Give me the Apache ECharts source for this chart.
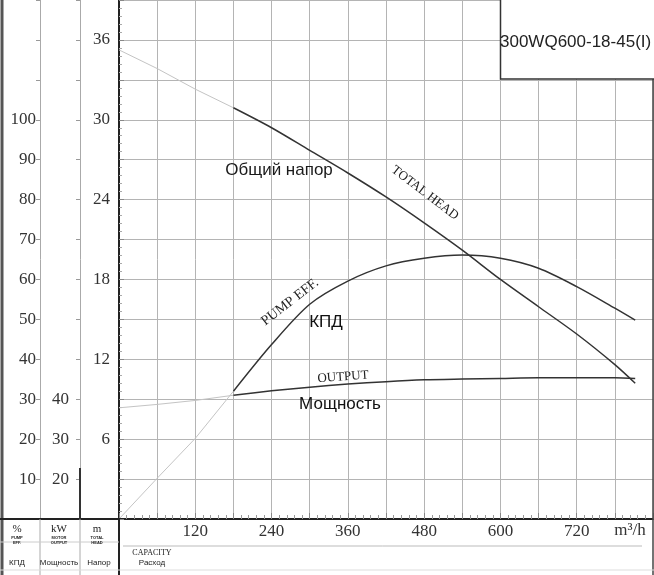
<!DOCTYPE html>
<html><head><meta charset="utf-8">
<script src="https://cdn.jsdelivr.net/npm/echarts@6/dist/echarts.min.js"></script>
<style>html,body{margin:0;padding:0;background:#fff}#c{width:654px;height:575px}</style>
</head><body><div id="c"></div>
<script>
// Flow (m³/h)
const flowLight = [0, 60, 120, 180];
const flow = [180, 240, 300, 360, 420, 480, 540, 600, 660, 720, 780, 812];
// Total head (m)
const headLight = [35.25, 33.85, 32.3, 30.9];
const head = [30.9, 29.4, 27.7, 26.0, 24.2, 22.25, 20.2, 18.0, 15.95, 13.9, 11.6, 10.2];
// Pump efficiency (%)
const effLight = [0, 10.2, 20.2, 32.0];
const eff = [32.0, 43.7, 53.8, 59.6, 63.4, 65.3, 66.1, 65.3, 62.8, 58.2, 52.8, 49.8];
// Output power (kW)
const powerLight = [37.85, 38.7, 39.7, 41.0];
const power = [41.0, 42.1, 43.0, 43.8, 44.4, 44.85, 45.05, 45.2, 45.35, 45.35, 45.35, 45.2];
// Tick labels
const flowTicks = [120, 240, 360, 480, 600, 720];
const headTicks = [6, 12, 18, 24, 30, 36];
const effTicks = [10, 20, 30, 40, 50, 60, 70, 80, 90, 100];
const powerTicks = [20, 30, 40];

const pairs = (xs, ys) => xs.map((x, i) => [x, ys[i]]);
const SERIF = '"Liberation Serif", "DejaVu Serif", serif';
const SANS = '"Liberation Sans", Arial, sans-serif';
const GRID = '#b4b4b4';
const DARK = '#333';
const LIGHT = '#c4c4c4';

const chart = echarts.init(document.getElementById('c'), null, {renderer: 'canvas'});

function lineSeries(name, xs, ys, axis, color, width, smooth) {
  return {
    name, type: 'line', yAxisIndex: axis, data: pairs(xs, ys),
    smooth: smooth, showSymbol: false, symbol: 'none',
    lineStyle: {color, width}, z: 5, silent: true
  };
}

function txt(text, x, y, font, opts) {
  opts = opts || {};
  return {
    type: 'text', x, y, rotation: opts.rot || 0, z: 50, silent: true,
    style: {text, font, fill: opts.fill || '#222', align: opts.align || 'center', verticalAlign: 'middle'}
  };
}
function ln(x1, y1, x2, y2, stroke, w) {
  return {type: 'line', z: 40, silent: true, shape: {x1, y1, x2, y2}, style: {stroke, lineWidth: w}};
}

const option = {
  backgroundColor: '#fff',
  animation: false,
  grid: {left: 119, right: 1, top: 0, bottom: 56, containLabel: false, outerBoundsMode: 'none'},
  xAxis: {
    type: 'value', min: 0, max: 840, interval: 60,
    axisLine: {show: true, lineStyle: {color: '#222', width: 2}},
    axisTick: {show: true, inside: true, length: 6, lineStyle: {color: '#888'}},
    minorTick: {show: true, splitNumber: 5, length: 4, lineStyle: {color: '#999'}},
    splitLine: {show: true, lineStyle: {color: GRID, width: 1}},
    axisLabel: {
      margin: 4, color: '#333', fontFamily: SERIF, fontSize: 17,
      showMinLabel: true, showMaxLabel: true,
      formatter: v => flowTicks.includes(v) ? String(v) : ''
    }
  },
  yAxis: [
    {
      type: 'value', position: 'left', offset: 0, min: 0, max: 39, interval: 3,
      axisLine: {show: true, onZero: false, lineStyle: {color: '#222', width: 2}},
      axisTick: {show: true, inside: true, length: 5, lineStyle: {color: '#888'}},
      minorTick: {show: true, splitNumber: 5, length: 3, lineStyle: {color: '#aaa'}},
      splitLine: {show: true, lineStyle: {color: GRID, width: 1}},
      axisLabel: {margin: 9, color: '#333', fontFamily: SERIF, fontSize: 17,
        formatter: v => headTicks.includes(v) ? String(v) : ''}
    },
    {
      type: 'value', position: 'left', offset: 79, min: 0, max: 130, interval: 10,
      axisLine: {show: true, onZero: false, lineStyle: {color: '#aaa', width: 1}},
      axisTick: {show: true, inside: false, length: 4, lineStyle: {color: '#999'}},
      splitLine: {show: false},
      axisLabel: {margin: 4, color: '#333', fontFamily: SERIF, fontSize: 17,
        formatter: v => effTicks.includes(v) ? String(v) : ''}
    },
    {
      type: 'value', position: 'left', offset: 39, min: 10, max: 140, interval: 10,
      axisLine: {show: true, onZero: false, lineStyle: {color: '#aaa', width: 1}},
      axisTick: {show: true, inside: false, length: 4, lineStyle: {color: '#999'}},
      splitLine: {show: false},
      axisLabel: {margin: 11, color: '#333', fontFamily: SERIF, fontSize: 17,
        formatter: v => powerTicks.includes(v) ? String(v) : ''}
    }
  ],
  series: [
    lineSeries('head-ext', flowLight, headLight, 0, LIGHT, 1, false),
    lineSeries('head', flow, head, 0, DARK, 1.5, 0.3),
    lineSeries('eff-ext', flowLight, effLight, 1, LIGHT, 1, false),
    lineSeries('eff', flow, eff, 1, DARK, 1.5, 0.3),
    lineSeries('power-ext', flowLight, powerLight, 2, LIGHT, 1, false),
    lineSeries('power', flow, power, 2, DARK, 1.5, 0.3)
  ],
  graphic: [
    // title box
    {type: 'rect', z: 45, silent: true, shape: {x: 500.5, y: -2, width: 160, height: 81},
      style: {fill: '#fff', stroke: '#333', lineWidth: 1.5}},
    txt('300WQ600-18-45(I)', 500, 42, '17px ' + SANS, {align: 'left', fill: '#222'}),
    // curve annotations
    txt('Общий напор', 279, 170, '17px ' + SANS, {fill: '#1a1a1a'}),
    txt('TOTAL HEAD', 425, 193, '13px ' + SERIF, {rot: -0.65}),
    txt('PUMP EFF.', 290, 302, '14px ' + SERIF, {rot: 0.66}),
    txt('КПД', 326, 322, '17px ' + SANS, {fill: '#111'}),
    txt('OUTPUT', 343, 377, '13px ' + SERIF, {rot: 0.07}),
    txt('Мощность', 340, 404, '17px ' + SANS, {fill: '#111'}),
    txt('m³/h', 630, 531, '17px ' + SERIF, {fill: '#333'}),
    // frame lines
    ln(2, 0, 2, 575, '#555', 3),
    ln(653, 0, 653, 575, '#444', 1.5),
    ln(0, 519, 120, 519, '#222', 2),
    ln(119, 519, 119, 575, '#222', 2),
    ln(40, 519, 40, 575, '#aaa', 1),
    ln(80, 519, 80, 575, '#aaa', 1),
    ln(80, 468, 80, 519, '#333', 2),
    ln(0, 542, 119, 542, '#ccc', 1),
    ln(123, 546, 642, 546, '#bbb', 1),
    ln(0, 570, 654, 570, '#ddd', 1),
    // bottom-left header table
    txt('%', 17, 529, '11px ' + SERIF),
    txt('kW', 59, 529, '11px ' + SERIF),
    txt('m', 97, 529, '11px ' + SERIF),
    txt('PUMP', 17, 538, 'bold 4px ' + SANS),
    txt('EFF.', 17, 543, 'bold 4px ' + SANS),
    txt('MOTOR', 59, 538, 'bold 4px ' + SANS),
    txt('OUTPUT', 59, 543, 'bold 4px ' + SANS),
    txt('TOTAL', 97, 538, 'bold 4px ' + SANS),
    txt('HEAD', 97, 543, 'bold 4px ' + SANS),
    txt('КПД', 17, 563, '8px ' + SANS),
    txt('Мощность', 59, 563, '8px ' + SANS),
    txt('Напор', 99, 563, '8px ' + SANS),
    txt('CAPACITY', 152, 553, '8px ' + SERIF),
    txt('Расход', 152, 563, '8px ' + SANS)
  ]
};
chart.setOption(option);
</script>
</body></html>
